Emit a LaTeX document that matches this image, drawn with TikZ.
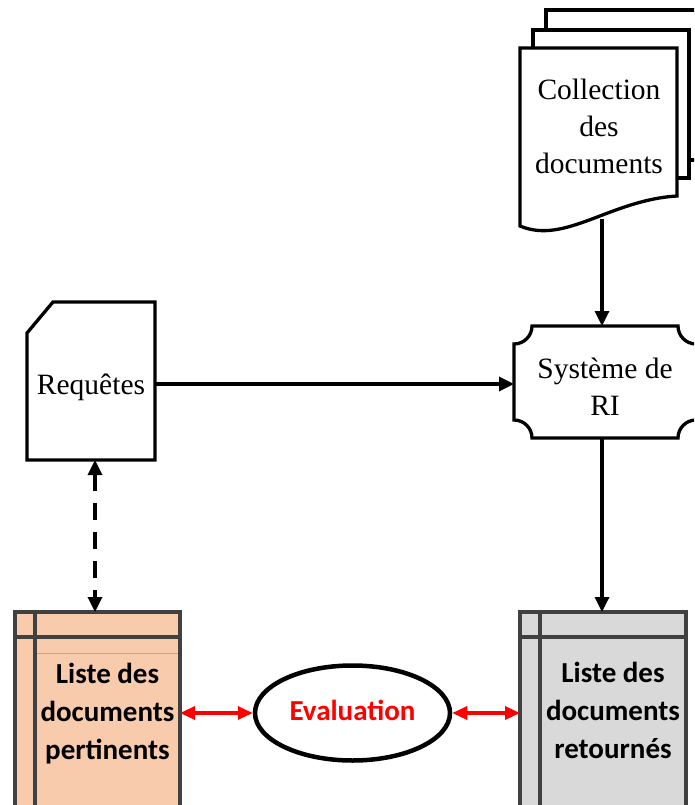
\documentclass[tikz,border=0pt]{standalone}
\usepackage{fontspec}
\setmainfont{Liberation Serif}
\newfontfamily\calibri{Carlito}
\usetikzlibrary{arrows.meta,shapes.geometric}
\definecolor{peach}{HTML}{F8CBAD}
\definecolor{lightgrey}{HTML}{D9D9D9}
\definecolor{framegrey}{HTML}{404040}
\definecolor{rulebrown}{HTML}{C9A48C}
\begin{document}
\begin{tikzpicture}[x=1pt,y=-1pt,
  outline/.style={draw=black,line width=3.3pt,fill=white,line join=miter},
  conn/.style={line width=3.3pt,-{Triangle[length=15pt,width=14pt]}},
  dashconn/.style={line width=3.3pt,dash pattern=on 17pt off 12pt,
    {Triangle[length=15pt,width=14pt]}-{Triangle[length=15pt,width=14pt]}},
  evalconn/.style={draw=red,line width=3.3pt,
    {Triangle[length=15pt,width=13pt]}-{Triangle[length=15pt,width=13pt]}},
  listframe/.style={draw=framegrey,line width=3.3pt},
  serif/.style={font=\fontsize{29.5}{37}\selectfont,align=center,inner sep=0pt},
  boldtext/.style={font=\calibri\bfseries\fontsize{29}{38}\selectfont,align=center,inner sep=0pt},
]
\useasboundingbox (0,0) rectangle (694,805);
\clip (0,0) rectangle (694,805);

% stack of documents
\draw[outline] (546,10) rectangle (710,160);
\draw[outline] (533,30) rectangle (689,178);
\draw[outline] (520,226) -- (520,48) -- (677,48) -- (677,196)
  .. controls (610,200) and (565,245) .. cycle;
\node[serif] (coll) at (599,126) {Collection\\des\\documents};
\coordinate (collfoot) at (602,219);

% query card with a cut corner
\draw[outline] (27,333) -- (53,302) -- (155,302) -- (155,460) -- (27,460) -- cycle;
\node[serif] (req) at (91,387) {Requêtes};
\coordinate (reqE) at (155,384);
\coordinate (reqS) at (95,460);

% retrieval system (plaque shape)
\draw[outline] (514,344) arc[start angle=90,end angle=0,radius=18]
  -- (678,326) arc[start angle=180,end angle=90,radius=18]
  -- (696,420) arc[start angle=270,end angle=180,radius=18]
  -- (532,438) arc[start angle=0,end angle=-90,radius=18] -- cycle;
\node[serif] (sys) at (605,387) {Système de\\RI};
\coordinate (sysN) at (602,326);
\coordinate (sysS) at (602,438);
\coordinate (sysW) at (514,384);

% list of relevant documents
\fill[peach] (15,612) rectangle (180,820);
\draw[rulebrown,line width=1pt] (35,653) -- (180,653);
\draw[listframe] (15,820) -- (15,612) -- (180,612) -- (180,820);
\draw[listframe] (35,612) -- (35,820);
\draw[listframe] (15,637) -- (180,637);
\node[boldtext] (pert) at (107.5,714) {Liste des\\documents\\pertinents};
\coordinate (pertN) at (95,612);
\coordinate (pertE) at (180,713);

% list of returned documents
\fill[lightgrey] (520,612) rectangle (686,820);
\draw[listframe] (520,820) -- (520,612) -- (686,612) -- (686,820);
\draw[listframe] (540,612) -- (540,820);
\draw[listframe] (520,637) -- (686,637);
\node[boldtext] (ret) at (613,710) {Liste des\\documents\\retournés};
\coordinate (retN) at (602,612);
\coordinate (retW) at (520,713);

% evaluation
\node[draw=black,line width=4.5pt,ellipse,minimum width=195pt,minimum height=95pt,
  inner sep=0pt] (eval) at (352.5,713) {};
\node[boldtext,text=red] (evaltxt) at (352.5,710) {Evaluation};

% connectors
\draw[conn] (collfoot) -- (sysN);
\draw[conn] (reqE) -- (sysW);
\draw[conn] (sysS) -- (retN);
\draw[dashconn] (reqS) -- (pertN);
\draw[evalconn] (pertE) -- (eval.west);
\draw[evalconn] (eval.east) -- (retW);
\end{tikzpicture}
\end{document}
